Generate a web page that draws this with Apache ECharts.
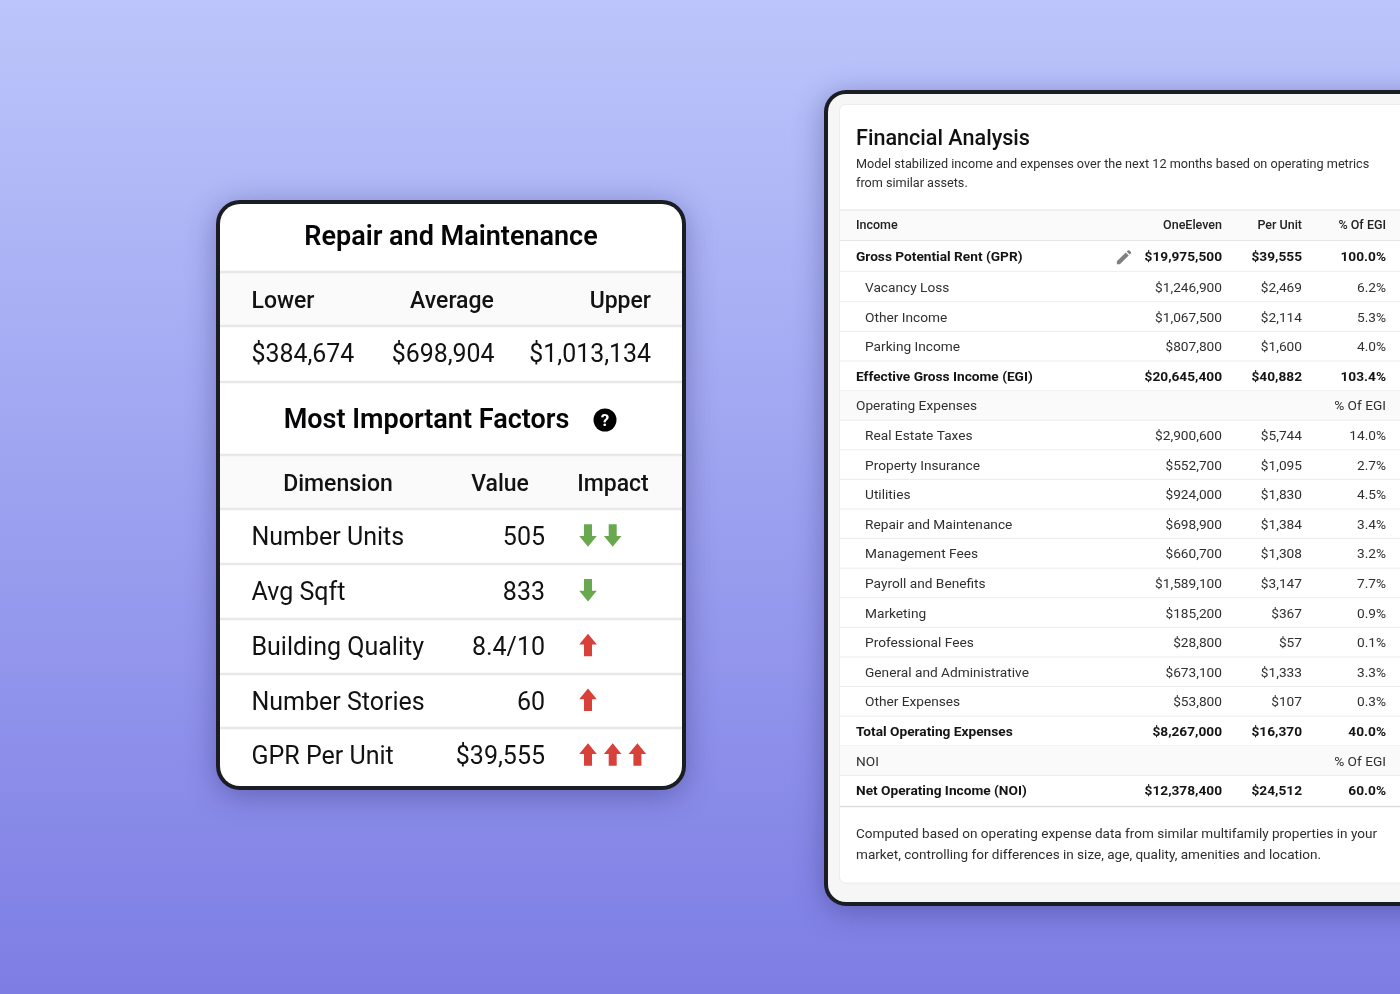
<!DOCTYPE html>
<html>
<head>
<meta charset="utf-8">
<title>Repair and Maintenance</title>
<script src="https://cdn.jsdelivr.net/npm/echarts@6/dist/echarts.min.js"></script>
<style>
html, body { margin: 0; padding: 0; }
#main { width: 1400px; height: 994px; }
</style>
</head>
<body>
<div id="main"></div>
<script>
// left card
var rangeHeads = ['Lower', 'Average', 'Upper'];
var rangeValues = ['$384,674', '$698,904', '$1,013,134'];
var factorHeads = ['Dimension', 'Value', 'Impact'];
var factorNames = ['Number Units', 'Avg Sqft', 'Building Quality', 'Number Stories', 'GPR Per Unit'];
var factorValues = ['505', '833', '8.4/10', '60', '$39,555'];
var factorImpact = [-2, -1, 1, 1, 3];

// right card
var tableHeads = ['Income', 'OneEleven', 'Per Unit', '% Of EGI'];
var rowLabels = ['Gross Potential Rent (GPR)', 'Vacancy Loss', 'Other Income', 'Parking Income', 'Effective Gross Income (EGI)',
    'Operating Expenses', 'Real Estate Taxes', 'Property Insurance', 'Utilities', 'Repair and Maintenance', 'Management Fees',
    'Payroll and Benefits', 'Marketing', 'Professional Fees', 'General and Administrative', 'Other Expenses',
    'Total Operating Expenses', 'NOI', 'Net Operating Income (NOI)'];
var rowTotals = ['$19,975,500', '$1,246,900', '$1,067,500', '$807,800', '$20,645,400', '', '$2,900,600', '$552,700', '$924,000',
    '$698,900', '$660,700', '$1,589,100', '$185,200', '$28,800', '$673,100', '$53,800', '$8,267,000', '', '$12,378,400'];
var rowPerUnit = ['$39,555', '$2,469', '$2,114', '$1,600', '$40,882', '', '$5,744', '$1,095', '$1,830', '$1,384', '$1,308',
    '$3,147', '$367', '$57', '$1,333', '$107', '$16,370', '', '$24,512'];
var rowPercent = ['100.0%', '6.2%', '5.3%', '4.0%', '103.4%', '% Of EGI', '14.0%', '2.7%', '4.5%', '3.4%', '3.2%', '7.7%',
    '0.9%', '0.1%', '3.3%', '0.3%', '40.0%', '% Of EGI', '60.0%'];
var totalRows = ['Gross Potential Rent (GPR)', 'Effective Gross Income (EGI)', 'Total Operating Expenses', 'Net Operating Income (NOI)'];
var sectionRows = ['Operating Expenses', 'NOI'];
var introLines = ['Model stabilized income and expenses over the next 12 months based on operating metrics', 'from similar assets.'];
var noteLines = ['Computed based on operating expense data from similar multifamily properties in your',
    'market, controlling for differences in size, age, quality, amenities and location.'];

var FONT = 'Roboto, sans-serif';
var INK = '#121214';
var BORDER = '#1a1d21';
var items = [];

function text(str, x, y, size, weight, align, color) {
    items.push({
        type: 'text', silent: true,
        style: {
            text: str, x: x, y: y + size * 0.06 + 0.7, fill: color || INK, align: align || 'left', verticalAlign: 'middle',
            font: (weight || 400) + ' ' + size + 'px ' + FONT
        }
    });
}

function rect(x, y, w, h, fill, r, extra) {
    var style = { fill: fill };
    for (var k in extra) { style[k] = extra[k]; }
    items.push({ type: 'rect', silent: true, shape: { x: x, y: y, width: w, height: h, r: r || 0 }, style: style });
}

function hline(x1, x2, y, color, width) {
    items.push({
        type: 'line', silent: true,
        shape: { x1: x1, y1: y, x2: x2, y2: y },
        style: { stroke: color, lineWidth: width }
    });
}

function poly(points, fill) {
    items.push({ type: 'polygon', silent: true, shape: { points: points }, style: { fill: fill } });
}

// impact arrow, dir 1 = up, -1 = down
function arrow(cx, cy, dir) {
    var color = dir > 0 ? '#d8403a' : '#68a94f';
    var s = dir > 0 ? 1 : -1;
    var shape = [[0, -11.2], [8.8, -0.5], [4, -0.5], [4, 11.2], [-4, 11.2], [-4, -0.5], [-8.8, -0.5]];
    poly(shape.map(function (p) { return [cx + p[0], cy + p[1] * s]; }), color);
}

// pencil icon, drawn on a 24 unit box
function pencil(x, y, k) {
    var body = [[3, 17.25], [3, 21], [6.75, 21], [17.81, 9.94], [14.06, 6.19]];
    var cap = [[20.71, 7.04], [20.71, 5.63], [18.37, 3.29], [16.96, 3.29], [15.13, 5.12], [18.88, 8.87]];
    [body, cap].forEach(function (pts) {
        poly(pts.map(function (p) { return [x + p[0] * k, y + p[1] * k]; }), '#808080');
    });
}

function card(x, y, w, h, fill, r) {
    rect(x, y, w, h, BORDER, r, { shadowBlur: 30, shadowColor: 'rgba(40,40,110,0.4)', shadowOffsetY: 6 });
    rect(x + 4, y + 4, w - 8, h - 8, fill, r - 4);
}

function drawLeftCard() {
    card(216, 200, 470, 590, '#ffffff', 24);

    text('Repair and Maintenance', 451, 236, 27, 600, 'center', '#060608');

    rect(220, 272, 462, 54, '#fafafa');
    rect(220, 455, 462, 54, '#fafafa');
    var lines = [272, 326, 382, 455, 509, 564, 619, 674, 728];
    lines.forEach(function (y) { hline(220, 682, y, '#e8e8e8', 2.5); });

    text(rangeHeads[0], 251.5, 300, 23, 500, 'left');
    text(rangeHeads[1], 452, 300, 23, 500, 'center');
    text(rangeHeads[2], 651, 300, 23, 500, 'right');

    text(rangeValues[0], 251.5, 354, 24.9, 400, 'left');
    text(rangeValues[1], 494.5, 354, 24.9, 400, 'right');
    text(rangeValues[2], 651, 354, 24.9, 400, 'right');

    text('Most Important Factors', 426.5, 419, 27, 600, 'center', '#060608');
    items.push({ type: 'circle', silent: true, shape: { cx: 605, cy: 420, r: 11.5 }, style: { fill: '#000000' } });
    text('?', 605, 420, 17, 700, 'center', '#ffffff');

    text(factorHeads[0], 338, 483, 23, 500, 'center');
    text(factorHeads[1], 500, 483, 23, 500, 'center');
    text(factorHeads[2], 613, 483, 23, 500, 'center');

    factorNames.forEach(function (name, i) {
        var y = 537 + i * 54.75;
        text(name, 251.5, y, 25, 400, 'left');
        text(factorValues[i], 545, y, 25, 400, 'right');
        var n = Math.abs(factorImpact[i]);
        for (var j = 0; j < n; j++) {
            arrow(588 + j * 24.7, y - 1.5, factorImpact[i]);
        }
    });
}

function drawRightCard() {
    card(824, 90, 660, 816, '#f6f6f6', 22);
    rect(839.5, 104.5, 640, 778.5, '#ffffff', 6, { stroke: '#ececec', lineWidth: 1 });

    text('Financial Analysis', 856, 138, 21.6, 500, 'left', '#111114');
    text(introLines[0], 856, 163.5, 12.65, 400, 'left', '#2e2e30');
    text(introLines[1], 856, 182.5, 12.65, 400, 'left', '#2e2e30');

    var colX = [856, 1222, 1302, 1386];
    rect(840, 210, 560, 30, '#fafafa');
    hline(840, 1400, 210, '#e2e2e2', 1);
    hline(840, 1400, 240.5, '#e6e6e6', 1);
    text(tableHeads[0], colX[0], 224, 12.5, 500, 'left', '#222224');
    text(tableHeads[1], colX[1], 224, 12.5, 500, 'right', '#222224');
    text(tableHeads[2], colX[2], 224, 12.5, 500, 'right', '#222224');
    text(tableHeads[3], colX[3], 224, 12.5, 500, 'right', '#222224');

    rowLabels.forEach(function (label, i) {
        var y = i === 0 ? 256.5 : 257.4 + i * 29.6;
        var bold = totalRows.indexOf(label) >= 0;
        var section = sectionRows.indexOf(label) >= 0;
        if (section) {
            rect(840, y - 14.8, 560, 29.6, '#fafafa');
        }
        if (i < rowLabels.length - 1) {
            hline(840, 1400, y + 14.8, '#ececec', 1);
        }
        var weight = bold ? 700 : 400;
        var color = bold ? '#141416' : '#303032';
        text(label, bold || section ? colX[0] : colX[0] + 9, y, 13.7, weight, 'left', color);
        text(rowTotals[i], colX[1], y, 13.7, weight, 'right', color);
        text(rowPerUnit[i], colX[2], y, 13.7, weight, 'right', color);
        text(rowPercent[i], colX[3], y, 13.7, weight, 'right', color);
    });
    hline(840, 1400, 806.5, '#dedede', 1.5);

    // pencil on the GPR row
    pencil(1114.5, 247.5, 0.8);

    text(noteLines[0], 856, 833.5, 13.55, 400, 'left', '#2e2e30');
    text(noteLines[1], 856, 854.5, 13.55, 400, 'left', '#2e2e30');
}

drawLeftCard();
drawRightCard();

var myChart = echarts.init(document.getElementById('main'));
myChart.setOption({
    backgroundColor: {
        type: 'linear', x: 0, y: 0, x2: 0, y2: 1,
        colorStops: [{ offset: 0, color: '#bcc6fb' }, { offset: 1, color: '#7d7de4' }]
    },
    animation: false,
    graphic: { elements: items }
});
</script>
</body>
</html>
